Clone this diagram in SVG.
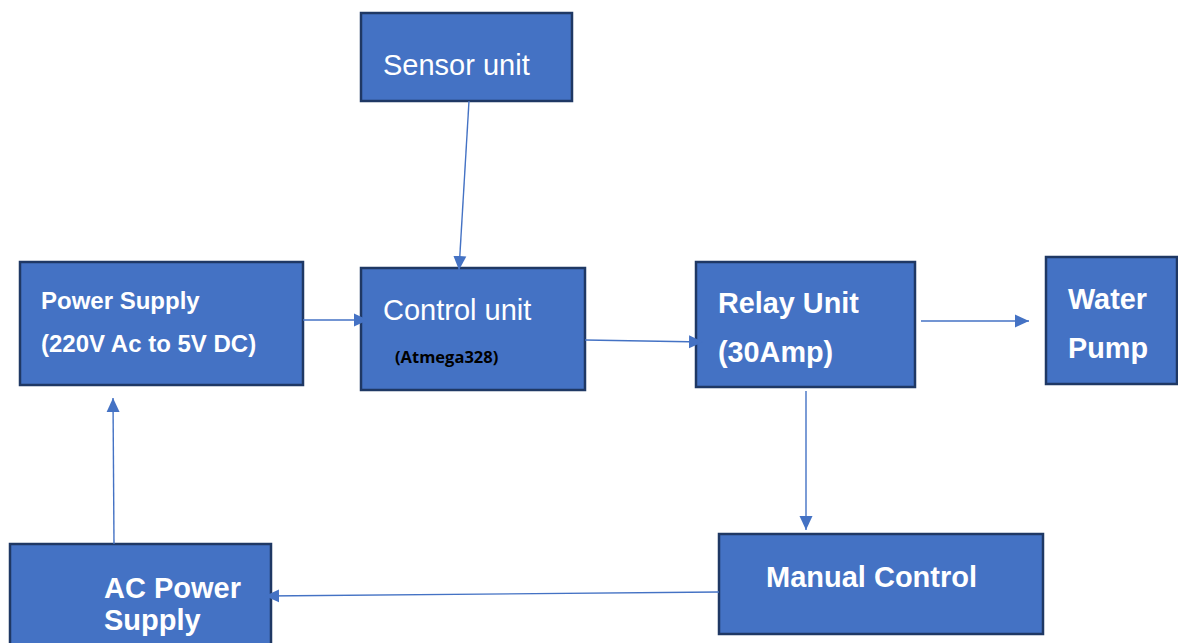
<svg xmlns="http://www.w3.org/2000/svg" width="1178" height="643" viewBox="0 0 1178 643">
  <style>
    .box { fill: #4472C4; stroke: #1F3864; stroke-width: 2.5; }
    .lbl { fill: #FFFFFF; font-family: "Liberation Sans", Arial, sans-serif; }
    .b { font-weight: bold; }
    .sub { fill: #000000; font-family: "Open Sans", "Liberation Sans", sans-serif; font-weight: bold; font-size: 16.5px; }
    .wire { fill: none; stroke: #4472C4; stroke-width: 1.4; marker-end: url(#arrow); }
  </style>
  <defs>
    <marker id="arrow" viewBox="0 0 14 14" refX="14" refY="7" markerWidth="14" markerHeight="14" markerUnits="userSpaceOnUse" orient="auto">
      <path d="M0,0.5 L14,7 L0,13.5 Z" fill="#4472C4"/>
    </marker>
  </defs>
  <rect width="1178" height="643" fill="#FFFFFF"/>

  <g id="sensor-unit">
    <rect class="box" x="361" y="13" width="211" height="88"/>
    <text class="lbl" x="383" y="75" font-size="29">Sensor unit</text>
  </g>

  <g id="control-unit">
    <rect class="box" x="361" y="268" width="224" height="122"/>
    <text class="lbl" x="383" y="320" font-size="29">Control unit</text>
    <text class="sub" x="395" y="363">(Atmega328)</text>
  </g>

  <g id="power-supply">
    <rect class="box" x="20" y="262" width="283" height="123"/>
    <text class="lbl b" x="41" y="309" font-size="24">Power Supply</text>
    <text class="lbl b" x="41" y="352" font-size="24">(220V Ac to 5V DC)</text>
  </g>

  <g id="relay-unit">
    <rect class="box" x="696" y="262" width="219" height="125"/>
    <text class="lbl b" x="718" y="313" font-size="28.8">Relay Unit</text>
    <text class="lbl b" x="718" y="362" font-size="28.8">(30Amp)</text>
  </g>

  <g id="water-pump">
    <rect class="box" x="1046" y="257" width="131" height="127"/>
    <text class="lbl b" x="1068" y="309" font-size="28.8">Water</text>
    <text class="lbl b" x="1068" y="358" font-size="28.8">Pump</text>
  </g>

  <g id="manual-control">
    <rect class="box" x="719" y="534" width="324" height="100"/>
    <text class="lbl b" x="766" y="587" font-size="29">Manual Control</text>
  </g>

  <g id="ac-power-supply">
    <rect class="box" x="10" y="544" width="261" height="110"/>
    <text class="lbl b" x="104" y="598" font-size="29">AC Power</text>
    <text class="lbl b" x="104" y="630" font-size="29">Supply</text>
  </g>

  <g id="connectors">
    <line class="wire" x1="469" y1="101" x2="459" y2="270"/>
    <line class="wire" x1="303" y1="320" x2="368" y2="320"/>
    <line class="wire" x1="585" y1="340" x2="703" y2="342"/>
    <line class="wire" x1="921" y1="321" x2="1029" y2="321"/>
    <line class="wire" x1="806" y1="391" x2="806" y2="530"/>
    <line class="wire" x1="719" y1="592" x2="265" y2="596"/>
    <line class="wire" x1="114" y1="544" x2="113" y2="398"/>
  </g>
</svg>
